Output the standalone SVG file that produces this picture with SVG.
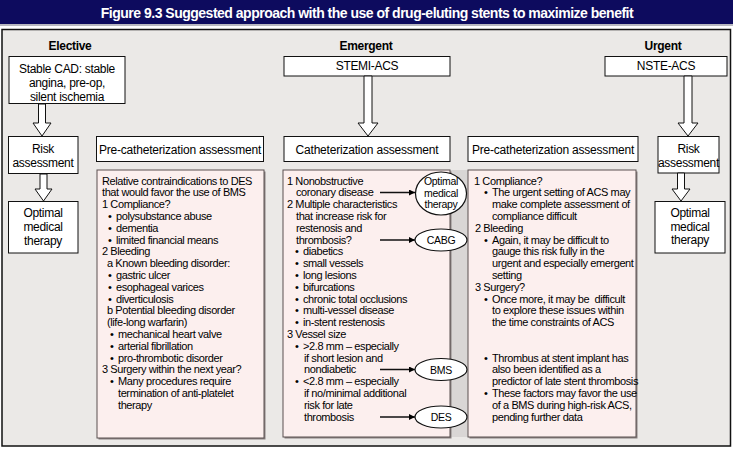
<svg xmlns="http://www.w3.org/2000/svg" width="733" height="451" viewBox="0 0 733 451">
<defs>
<marker id="ah" viewBox="0 0 10 10" refX="10" refY="5" markerWidth="7" markerHeight="6" markerUnits="userSpaceOnUse" orient="auto">
<path d="M0,0 L10,5 L0,10 z" fill="#000"/>
</marker>
</defs>
<style>
text{font-family:"Liberation Sans",Arial,Helvetica,sans-serif;fill:#000}
.title{font-size:14px;font-weight:bold;fill:#fff;letter-spacing:-0.5px}
.lab{font-size:12px;font-weight:bold;letter-spacing:-0.3px}
.bx{font-size:12px;letter-spacing:-0.3px}
.hd{font-size:12px;letter-spacing:-0.2px}
.t{font-size:11px;letter-spacing:-0.4px}
.el{font-size:10.5px;letter-spacing:-0.3px}
.c{text-anchor:middle}
.wbox{fill:#fff;stroke:#111;stroke-width:1}
.pink{fill:#fcefee;stroke:#5a5050;stroke-width:1}
.shadow{fill:#8a8282}
.ell{fill:#fff;stroke:#111;stroke-width:1.2}
.harrow{fill:#fff;stroke:#111;stroke-width:1}
.line{stroke:#111;stroke-width:1.5;fill:none;marker-end:url(#ah)}
</style>
<rect x="0" y="0" width="733" height="451" fill="#ffffff"/>
<rect x="0" y="0" width="733" height="24" fill="#0d0b5e"/>
<rect x="0" y="24" width="733" height="2" fill="#b8b8c0"/>
<text class="title c" x="367" y="18">Figure 9.3 Suggested approach with the use of drug-eluting stents to maximize benefit</text>
<rect x="2" y="29.5" width="728.5" height="416.5" fill="#ebe9e7" stroke="#111" stroke-width="1.5"/>
<rect x="450" y="170" width="18" height="267" fill="#d9d6d5"/>

<g id="lab-elective"><text class="lab c" x="70" y="50">Elective</text></g>
<g id="lab-emergent"><text class="lab c" x="366" y="50">Emergent</text></g>
<g id="lab-urgent"><text class="lab c" x="663" y="50">Urgent</text></g>

<g id="stable-cad">
<rect class="wbox" x="9" y="56.5" width="116" height="47"/>
<text class="bx c" x="67" y="73">Stable CAD: stable</text>
<text class="bx c" x="67" y="87">angina, pre-op,</text>
<text class="bx c" x="67" y="100.5">silent ischemia</text>
</g>
<g id="risk-left">
<rect class="wbox" x="8.5" y="136.5" width="69.5" height="37"/>
<text class="bx c" x="43" y="153">Risk</text>
<text class="bx c" x="43" y="167">assessment</text>
</g>
<g id="omt-left">
<rect class="wbox" x="8.5" y="201.5" width="69.5" height="51.5"/>
<text class="bx c" x="43" y="217">Optimal</text>
<text class="bx c" x="43" y="231">medical</text>
<text class="bx c" x="43" y="244.5">therapy</text>
</g>
<g id="precath-left-head">
<rect class="wbox" x="96.5" y="136.5" width="167" height="25"/>
<text class="hd c" x="180" y="153.5">Pre-catheterization assessment</text>
</g>
<g id="precath-left-body">
<rect class="shadow" x="98.5" y="171.5" width="167" height="268"/>
<rect class="pink" x="97" y="170" width="167" height="268"/>
<text class="t" x="102" y="184.5">Relative contraindications to DES</text>
<text class="t" x="102" y="196.3">that would favor the use of BMS</text>
<text class="t" x="102" y="208.1">1 Compliance?</text>
<text class="t" x="108" y="219.9">•</text><text class="t" x="116" y="219.9">polysubstance abuse</text>
<text class="t" x="108" y="231.7">•</text><text class="t" x="116" y="231.7">dementia</text>
<text class="t" x="108" y="243.5">•</text><text class="t" x="116" y="243.5">limited financial means</text>
<text class="t" x="102" y="255.3">2 Bleeding</text>
<text class="t" x="107" y="267.1">a Known bleeding disorder:</text>
<text class="t" x="108" y="278.9">•</text><text class="t" x="116" y="278.9">gastric ulcer</text>
<text class="t" x="108" y="290.7">•</text><text class="t" x="116" y="290.7">esophageal varices</text>
<text class="t" x="108" y="302.5">•</text><text class="t" x="116" y="302.5">diverticulosis</text>
<text class="t" x="107" y="314.3">b Potential bleeding disorder</text>
<text class="t" x="107" y="326.1">(life-long warfarin)</text>
<text class="t" x="110" y="337.9">•</text><text class="t" x="118" y="337.9">mechanical heart valve</text>
<text class="t" x="110" y="349.7">•</text><text class="t" x="118" y="349.7">arterial fibrillation</text>
<text class="t" x="110" y="361.5">•</text><text class="t" x="118" y="361.5">pro-thrombotic disorder</text>
<text class="t" x="102" y="373.3">3 Surgery within the next year?</text>
<text class="t" x="110" y="385.1">•</text><text class="t" x="118" y="385.1">Many procedures require</text>
<text class="t" x="118" y="396.9">termination of anti-platelet</text>
<text class="t" x="118" y="408.7">therapy</text>
</g>

<g id="stemi">
<rect class="wbox" x="284" y="56.5" width="166" height="19.5"/>
<text class="bx c" x="367" y="70">STEMI-ACS</text>
</g>
<g id="cath-head">
<rect class="wbox" x="284" y="136.5" width="166" height="25"/>
<text class="hd c" x="367" y="153.5">Catheterization assessment</text>
</g>
<g id="cath-body">
<rect class="shadow" x="284.5" y="171.5" width="167" height="267"/>
<rect class="pink" x="283" y="170" width="167" height="267"/>
<text class="t" x="287" y="184.5">1 Nonobstructive</text>
<text class="t" x="296" y="196.3">coronary disease</text>
<text class="t" x="287" y="208.1">2 Multiple characteristics</text>
<text class="t" x="296" y="219.9">that increase risk for</text>
<text class="t" x="296" y="231.7">restenosis and</text>
<text class="t" x="296" y="243.5">thrombosis?</text>
<text class="t" x="295" y="255.3">•</text><text class="t" x="303" y="255.3">diabetics</text>
<text class="t" x="295" y="267.1">•</text><text class="t" x="303" y="267.1">small vessels</text>
<text class="t" x="295" y="278.9">•</text><text class="t" x="303" y="278.9">long lesions</text>
<text class="t" x="295" y="290.7">•</text><text class="t" x="303" y="290.7">bifurcations</text>
<text class="t" x="295" y="302.5">•</text><text class="t" x="303" y="302.5">chronic total occlusions</text>
<text class="t" x="295" y="314.3">•</text><text class="t" x="303" y="314.3">multi-vessel disease</text>
<text class="t" x="295" y="326.1">•</text><text class="t" x="303" y="326.1">in-stent restenosis</text>
<text class="t" x="287" y="337.9">3 Vessel size</text>
<text class="t" x="295" y="349.7">•</text><text class="t" x="303" y="349.7">&gt;2.8 mm – especially</text>
<text class="t" x="304" y="361.5">if short lesion and</text>
<text class="t" x="304" y="373.3">nondiabetic</text>
<text class="t" x="295" y="385.1">•</text><text class="t" x="303" y="385.1">&lt;2.8 mm – especially</text>
<text class="t" x="304" y="396.9">if no/minimal additional</text>
<text class="t" x="304" y="408.7">risk for late</text>
<text class="t" x="304" y="420.5">thrombosis</text>
</g>

<g id="precath-right-head">
<rect class="wbox" x="468" y="136.5" width="170" height="25"/>
<text class="hd c" x="553" y="153.5">Pre-catheterization assessment</text>
</g>
<g id="precath-right-body">
<rect class="shadow" x="469.5" y="171.5" width="168" height="267"/>
<rect class="pink" x="468" y="170" width="168" height="267"/>
<text class="t" x="474" y="184.5">1 Compliance?</text>
<text class="t" x="484" y="196.3">•</text><text class="t" x="492" y="196.3">The urgent setting of ACS may</text>
<text class="t" x="492" y="208.1">make complete assessment of</text>
<text class="t" x="492" y="219.9">compliance difficult</text>
<text class="t" x="475" y="231.7">2 Bleeding</text>
<text class="t" x="484" y="243.5">•</text><text class="t" x="492" y="243.5">Again, it may be difficult to</text>
<text class="t" x="492" y="255.3">gauge this risk fully in the</text>
<text class="t" x="492" y="267.1">urgent and especially emergent</text>
<text class="t" x="492" y="278.9">setting</text>
<text class="t" x="475" y="290.7">3 Surgery?</text>
<text class="t" x="484" y="302.5">•</text><text class="t" x="492" y="302.5">Once more, it may be &#160;difficult</text>
<text class="t" x="492" y="314.3">to explore these issues within</text>
<text class="t" x="492" y="326.1">the time constraints of ACS</text>
<text class="t" x="484" y="361.5">•</text><text class="t" x="492" y="361.5">Thrombus at stent implant has</text>
<text class="t" x="492" y="373.3">also been identified as a</text>
<text class="t" x="492" y="385.1">predictor of late stent thrombosis</text>
<text class="t" x="484" y="396.9">•</text><text class="t" x="492" y="396.9">These factors may favor the use</text>
<text class="t" x="492" y="408.7">of a BMS during high-risk ACS,</text>
<text class="t" x="492" y="420.5">pending further data</text>
</g>

<g id="nste">
<rect class="wbox" x="605" y="56.5" width="122" height="19.5"/>
<text class="bx c" x="666" y="70">NSTE-ACS</text>
</g>
<g id="risk-right">
<rect class="wbox" x="658" y="136.5" width="61" height="36.5"/>
<text class="bx c" x="688.5" y="153">Risk</text>
<text class="bx c" x="688.5" y="167">assessment</text>
</g>
<g id="omt-right">
<rect class="wbox" x="655" y="201.5" width="70" height="51.5"/>
<text class="bx c" x="690" y="216.5">Optimal</text>
<text class="bx c" x="690" y="230.5">medical</text>
<text class="bx c" x="690" y="244">therapy</text>
</g>

<g id="connectors">
<polygon class="harrow" points="38.5,104 38.5,123 33,123 42,136 51,123 45.5,123 45.5,104"/>
<polygon class="harrow" points="40,174 40,189 35,189 43.5,201 52,189 47,189 47,174"/>
<polygon class="harrow" points="364,76 364,123 358,123 368,136 378,123 372,123 372,76"/>
<polygon class="harrow" points="684,76 684,123 678,123 688,136 698,123 692,123 692,76"/>
<polygon class="harrow" points="677.5,173 677.5,189 672,189 681,201 690,189 684.5,189 684.5,173"/>
<line class="line" x1="380" y1="192.5" x2="415" y2="192.5"/>
<line class="line" x1="380" y1="240" x2="415" y2="240"/>
<line class="line" x1="380" y1="369.5" x2="415" y2="369.5"/>
<line class="line" x1="380" y1="417" x2="415" y2="417"/>
</g>

<g id="omt-ellipse">
<ellipse class="ell" cx="441" cy="193.5" rx="25.5" ry="21.5"/>
<text class="el c" x="441" y="184.5">Optimal</text>
<text class="el c" x="441" y="196.5">medical</text>
<text class="el c" x="441" y="208">therapy</text>
</g>
<g id="cabg-ellipse">
<ellipse class="ell" cx="441" cy="240" rx="26" ry="11"/>
<text class="el c" x="441" y="244">CABG</text>
</g>
<g id="bms-ellipse">
<ellipse class="ell" cx="441" cy="369.5" rx="26" ry="11"/>
<text class="el c" x="441" y="373.5">BMS</text>
</g>
<g id="des-ellipse">
<ellipse class="ell" cx="441" cy="417" rx="26" ry="11"/>
<text class="el c" x="441" y="421">DES</text>
</g>
</svg>
